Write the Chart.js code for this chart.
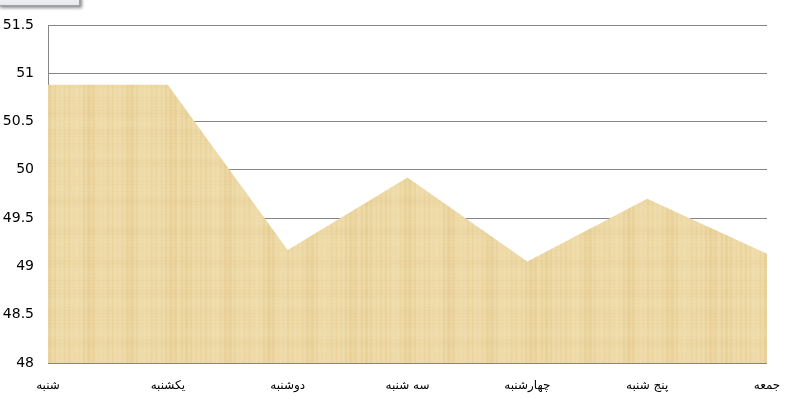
<!DOCTYPE html>
<html>
<head>
<meta charset="utf-8">
<script src="https://cdn.jsdelivr.net/npm/chart.js@4/dist/chart.umd.min.js"></script>
<style>
  html, body { margin: 0; padding: 0; background: #fff; }
  #wrap { position: relative; width: 789px; height: 402px; overflow: hidden; }
  #tab {
    position: absolute; left: -2px; top: -20px; width: 80px; height: 24px;
    background: linear-gradient(#ffffff, #e8e8f0); border: 1px solid #a0a0a8;
    box-shadow: 2px 2px 3px rgba(0,0,0,0.45);
  }
</style>
</head>
<body>
<div id="wrap">
  <canvas id="chart" width="789" height="402"></canvas>
  <div id="tab"></div>
</div>
<script>
const days = ['شنبه', 'یکشنبه', 'دوشنبه', 'سه شنبه', 'چهارشنبه', 'پنج شنبه', 'جمعه'];
const values = [50.88, 50.88, 49.17, 49.92, 49.05, 49.70, 49.13];
const yMin = 48;
const yMax = 51.5;
const yStep = 0.5;

// papyrus-like texture for the area fill
function papyrus() {
  const c = document.createElement('canvas');
  c.width = 180; c.height = 180;
  const g = c.getContext('2d');
  g.fillStyle = '#edd8a3';
  g.fillRect(0, 0, 180, 180);
  for (let x = 0; x < 180; x++) {
    const v = 0.6 * Math.sin(x * 0.23) * Math.cos(x * 0.071) + 0.4 * Math.sin(x * 1.3);
    if (v > 0.2) g.fillStyle = 'rgba(205,165,95,' + (0.05 + 0.12 * (v - 0.2)) + ')';
    else g.fillStyle = 'rgba(255,246,222,' + (0.04 + 0.12 * (0.2 - v)) + ')';
    g.fillRect(x, 0, 1, 180);
  }
  for (let y = 0; y < 180; y++) {
    const a = 0.05 * Math.sin(y * 0.31 + 1.3) * Math.sin(y * 0.09) + 0.02 * Math.sin(y * 1.9);
    g.fillStyle = a > 0 ? 'rgba(195,155,85,' + a + ')' : 'rgba(255,248,228,' + (-a) + ')';
    g.fillRect(0, y, 180, 1);
  }
  return g.createPattern(c, 'repeat');
}

new Chart(document.getElementById('chart'), {
  type: 'line',
  data: {
    labels: days,
    datasets: [{
      data: values,
      fill: 'start',
      backgroundColor: papyrus(),
      borderWidth: 0,
      pointRadius: 0,
      tension: 0
    }]
  },
  options: {
    responsive: false,
    animation: false,
    plugins: { legend: { display: false }, tooltip: { enabled: false } },
    layout: { padding: { top: 25, right: 22, bottom: 0, left: 0 } },
    scales: {
      x: {
        offset: false,
        grid: { display: false },
        border: { display: false },
        ticks: {
          color: '#000',
          font: { family: 'DejaVu Sans', size: 12 },
          maxRotation: 0,
          autoSkip: false,
          padding: 8
        },
        afterFit: s => { s.height = 39; }
      },
      y: {
        min: yMin,
        max: yMax,
        grid: { color: '#868686', lineWidth: 1, drawTicks: false },
        border: { display: true, color: '#868686' },
        ticks: {
          stepSize: yStep,
          color: '#000',
          font: { family: 'DejaVu Sans', size: 14 },
          padding: 14,
          callback: v => String(Number(v))
        },
        afterFit: s => { s.width = 48; }
      }
    }
  }
});
</script>
</body>
</html>
